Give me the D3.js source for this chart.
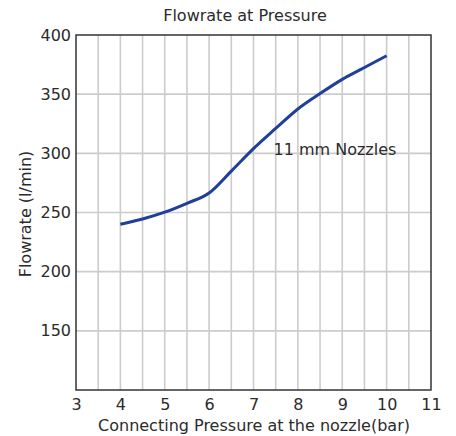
<!DOCTYPE html>
<html>
<head>
<meta charset="utf-8">
<script src="https://cdn.jsdelivr.net/npm/d3@7"></script>
<style>
  body { margin: 0; background: #fff; }
  text { font-family: Verdana, "DejaVu Sans", sans-serif; fill: #2b2b2b; }
</style>
</head>
<body>
<div id="chart"></div>
<script>
// Values (every half bar)
const pressures = [4, 4.5, 5, 5.5, 6, 6.5, 7, 7.5, 8, 8.5, 9, 9.5, 10];
const flowrates = [240, 244.5, 250.3, 257.8, 266.5, 285, 304, 321, 337.5, 350.5, 362.5, 372.5, 382.5];
const xTicks = [3, 4, 5, 6, 7, 8, 9, 10, 11];
const yTicks = [150, 200, 250, 300, 350, 400];
const seriesLabel = "11 mm Nozzles";

const width = 456, height = 436;
const margin = { top: 35, right: 25, bottom: 46, left: 76 };

const svg = d3.select("#chart").append("svg")
    .attr("width", width)
    .attr("height", height);

let x = d3.scaleLinear().domain([3, 11]).range([margin.left, width - margin.right]);
let y = d3.scaleLinear().domain([100, 400]).range([height - margin.bottom, margin.top]);

// vertical grid every half bar
svg.append("g")
    .selectAll("line")
    .data(d3.range(3.5, 11, 0.5))
    .enter()
    .append("line")
    .attr("x1", d => x(d)).attr("x2", d => x(d))
    .attr("y1", y(100)).attr("y2", y(400))
    .attr("stroke", "#cccccc")
    .attr("stroke-width", 1.6);

// horizontal grid
svg.append("g")
    .selectAll("line")
    .data(yTicks.slice(0, -1))
    .enter()
    .append("line")
    .attr("x1", x(3)).attr("x2", x(11))
    .attr("y1", d => y(d)).attr("y2", d => y(d))
    .attr("stroke", "#cccccc")
    .attr("stroke-width", 1.6);

// plot frame
svg.append("rect")
    .attr("x", x(3)).attr("y", y(400))
    .attr("width", x(11) - x(3))
    .attr("height", y(100) - y(400))
    .attr("fill", "none")
    .attr("stroke", "#333")
    .attr("stroke-width", 1.5);

// axes, labels only
let xAxis = svg.append("g")
    .attr("transform", `translate(0,${y(100)})`)
    .call(d3.axisBottom(x).tickValues(xTicks).tickSize(0).tickPadding(9).tickFormat(d3.format("d")));
let yAxis = svg.append("g")
    .attr("transform", `translate(${x(3)},0)`)
    .call(d3.axisLeft(y).tickValues(yTicks).tickSize(0).tickPadding(5).tickFormat(d3.format("d")));
[xAxis, yAxis].forEach(a => {
    a.select(".domain").remove();
    a.selectAll("text").attr("font-size", 16).attr("font-family", null);
});

// the curve
let line = d3.line()
    .x((d, i) => x(pressures[i]))
    .y(d => y(d))
    .curve(d3.curveMonotoneX);

svg.append("path")
    .datum(flowrates)
    .attr("d", line)
    .attr("fill", "none")
    .attr("stroke", "#1f3f99")
    .attr("stroke-width", 3);

svg.append("text")
    .attr("x", x(7.45)).attr("y", y(299))
    .attr("font-size", 16)
    .text(seriesLabel);

// titles
svg.append("text")
    .attr("x", 245).attr("y", 21)
    .attr("text-anchor", "middle")
    .attr("font-size", 16)
    .text("Flowrate at Pressure");

svg.append("text")
    .attr("x", 254).attr("y", 431)
    .attr("text-anchor", "middle")
    .attr("font-size", 16)
    .text("Connecting Pressure at the nozzle(bar)");

svg.append("text")
    .attr("transform", `translate(31,${214}) rotate(-90)`)
    .attr("text-anchor", "middle")
    .attr("font-size", 16)
    .text("Flowrate (l/min)");
</script>
</body>
</html>
